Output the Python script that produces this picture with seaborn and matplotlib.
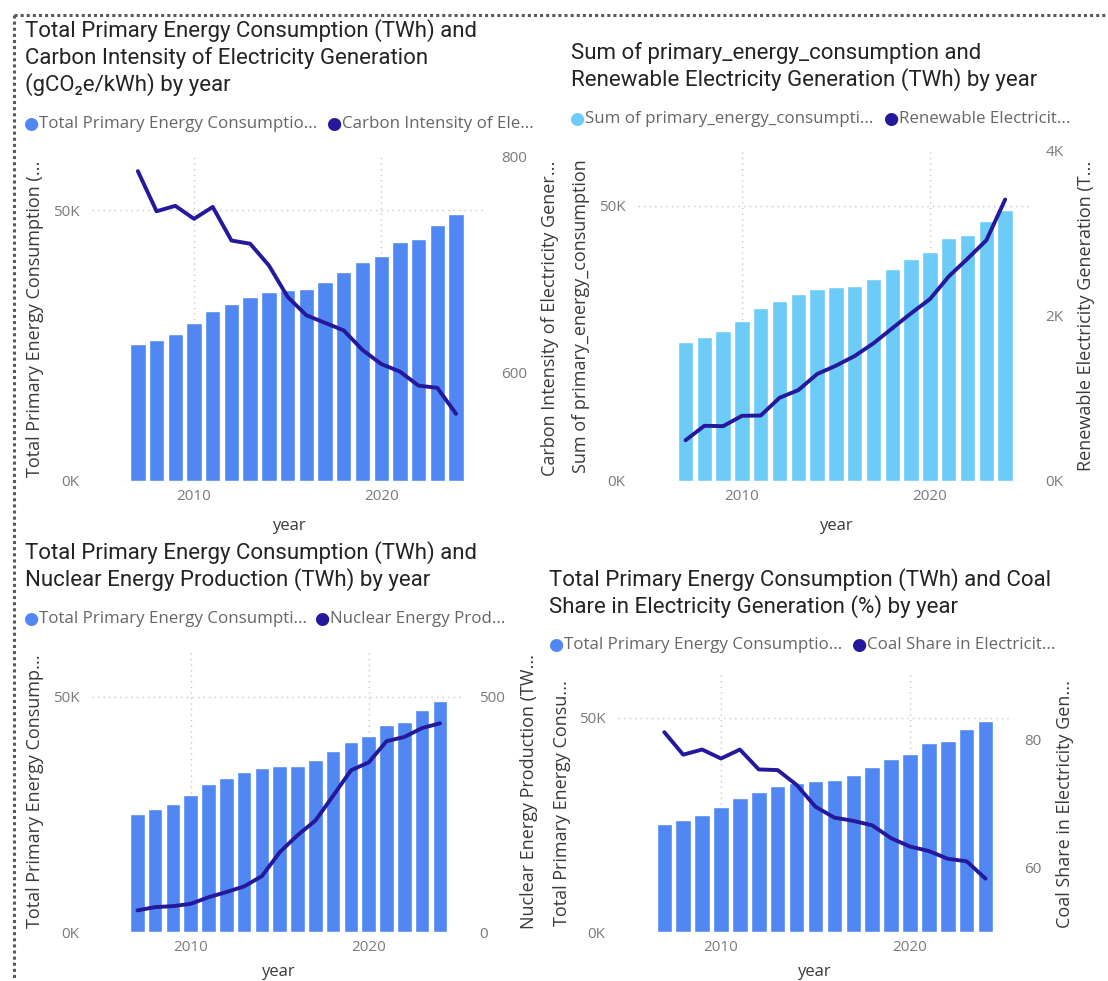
import matplotlib
matplotlib.use("Agg")
import matplotlib.pyplot as plt
from matplotlib.lines import Line2D
from matplotlib.ticker import FixedLocator, FuncFormatter
import seaborn as sns
import pandas as pd

# ---- data -------------------------------------------------------------
years = [2007, 2008, 2009, 2010, 2011, 2012, 2013, 2014, 2015,
         2016, 2017, 2018, 2019, 2020, 2021, 2022, 2023, 2024]
primary_energy = [25200, 26100, 27200, 29100, 31400, 32700, 34000, 34900, 35300,
                  35400, 36700, 38500, 40400, 41600, 44100, 44700, 47300, 49200]
carbon_intensity = [786, 749, 754, 742, 753, 722, 719, 699, 670,
                    653, 646, 639, 621, 608, 601, 588, 586, 562]
renewable_gen = [494, 669, 665, 790, 794, 1009, 1102, 1297, 1398,
                 1516, 1670, 1852, 2034, 2205, 2480, 2695, 2918, 3412]
nuclear_prod = [46, 53, 55, 60, 74, 85, 97, 119, 170,
                206, 237, 290, 344, 361, 406, 415, 434, 444]
coal_share = [81.1, 77.6, 78.4, 77.0, 78.4, 75.3, 75.2, 72.9, 69.5,
              67.8, 67.3, 66.6, 64.6, 63.3, 62.6, 61.4, 61.0, 58.3]

df = pd.DataFrame({
    "year": years,
    "primary": primary_energy,
    "carbon": carbon_intensity,
    "renewable": renewable_gen,
    "nuclear": nuclear_prod,
    "coal": coal_share,
})

# ---- style ------------------------------------------------------------
sns.set_theme(style="white")
plt.rcParams["font.family"] = ["Open Sans", "DejaVu Sans"]

BAR_BLUE = "#5087F2"
BAR_SKY = "#6CCBF7"
LINE_NAVY = "#24189C"
TICK_GREY = "#7A7A7A"
LABEL_DARK = "#3A3A3A"
LEGEND_GREY = "#666666"
TITLE_DARK = "#252423"

W, H = 1108, 981
fig = plt.figure(figsize=(W / 100, H / 100), dpi=100)
fig.patch.set_facecolor("white")


def px_axes(left, top, right, bottom):
    return fig.add_axes([left / W, 1 - bottom / H, (right - left) / W, (bottom - top) / H])


def fx(x):
    return x / W


def fy(y):
    return 1 - y / H


def k_fmt(v, _):
    return f"{v / 1000:.0f}K"


def combo(box, xlim, bar_col, bar_color, line_col, right_lim, right_ticks, right_fmt,
          left_label, right_label, left_label_x, right_label_x, title_lines, title_xy,
          legend_items, legend_y, xlabel_pad=10, right_pad=11):
    ax = px_axes(*box)
    sns.barplot(data=df, x="year", y=bar_col, ax=ax, native_scale=True,
                color=bar_color, saturation=1, width=0.82, errorbar=None, zorder=2)
    ax.set_xlim(*xlim)
    ax.set_ylim(0, 60000)
    ax.yaxis.set_major_locator(FixedLocator([0, 50000]))
    ax.yaxis.set_major_formatter(FuncFormatter(k_fmt))
    ax.xaxis.set_major_locator(FixedLocator([2010, 2020]))
    ax.xaxis.set_major_formatter(FuncFormatter(lambda v, _: f"{v:.0f}"))
    ax.grid(True, color="#C8C8C8", linestyle=(0, (1, 3)), linewidth=1.0, zorder=0)
    for s in ax.spines.values():
        s.set_visible(False)
    ax.tick_params(axis="both", length=0, colors=TICK_GREY, labelsize=11)
    ax.tick_params(axis="y", pad=9)
    ax.tick_params(axis="x", pad=6)
    ax.set_xlabel("year", color=LABEL_DARK, fontsize=12, labelpad=xlabel_pad)
    ax.set_ylabel(left_label, color=LABEL_DARK, fontsize=13)
    l, t, r, b = box
    ax.yaxis.set_label_coords((left_label_x + 9 - l) / (r - l), 0.5)

    ax2 = ax.twinx()
    sns.lineplot(data=df, x="year", y=line_col, ax=ax2, color=LINE_NAVY,
                 linewidth=2.8, zorder=3)
    ax2.set_ylim(*right_lim)
    ax2.set_xlim(*xlim)
    ax2.yaxis.set_major_locator(FixedLocator(right_ticks))
    ax2.yaxis.set_major_formatter(FuncFormatter(right_fmt))
    for s in ax2.spines.values():
        s.set_visible(False)
    ax2.tick_params(axis="both", length=0, colors=TICK_GREY, labelsize=11, pad=right_pad)
    ax2.set_ylabel(right_label, color=LABEL_DARK, fontsize=13)
    ax2.yaxis.set_label_coords((right_label_x - 7 - l) / (r - l), 0.5)
    ax2.grid(False)

    tx, ty = title_xy
    for i, line in enumerate(title_lines):
        fig.text(fx(tx), fy(ty + 27 * i), line, fontsize=16, color=TITLE_DARK,
                 family=["Roboto", "DejaVu Sans"], va="center", ha="left")

    for mx, color, text in legend_items:
        fig.text(fx(mx), fy(legend_y), "●", fontsize=12.5, color=color,
                 family=["DejaVu Sans"], va="center", ha="center")
        fig.text(fx(mx + 8), fy(legend_y), text, fontsize=12.2, color=LEGEND_GREY,
                 va="center", ha="left")


# top-left chart
combo(box=(92, 156, 486, 481), xlim=(2004.55, 2025.6),
      bar_col="primary", bar_color=BAR_BLUE, line_col="carbon",
      right_lim=(500, 800), right_ticks=[600, 800],
      right_fmt=lambda v, _: f"{v:.0f}",
      left_label="Total Primary Energy Consumption (...",
      right_label="Carbon Intensity of Electricity Gener...",
      left_label_x=35, right_label_x=548,
      title_lines=["Total Primary Energy Consumption (TWh) and",
                   "Carbon Intensity of Electricity Generation",
                   "(gCO₂e/kWh) by year"],
      title_xy=(25, 31),
      legend_items=[(31, BAR_BLUE, "Total Primary Energy Consumptio..."),
                    (334, LINE_NAVY, "Carbon Intensity of Ele...")],
      legend_y=124)

# top-right chart
combo(box=(638, 151, 1033, 481), xlim=(2004.47, 2025.48),
      bar_col="primary", bar_color=BAR_SKY, line_col="renewable",
      right_lim=(0, 4000), right_ticks=[0, 2000, 4000],
      right_fmt=k_fmt,
      left_label="Sum of primary_energy_consumption",
      right_label="Renewable Electricity Generation (T...",
      left_label_x=581, right_label_x=1084,
      title_lines=["Sum of primary_energy_consumption and",
                   "Renewable Electricity Generation (TWh) by year"],
      title_xy=(571, 53),
      legend_items=[(577, BAR_SKY, "Sum of primary_energy_consumpti..."),
                    (891, LINE_NAVY, "Renewable Electricit...")],
      legend_y=119, right_pad=9)

# bottom-left chart
combo(box=(92, 650, 464, 932), xlim=(2004.45, 2025.35),
      bar_col="primary", bar_color=BAR_BLUE, line_col="nuclear",
      right_lim=(0, 600), right_ticks=[0, 500],
      right_fmt=lambda v, _: f"{v:.0f}",
      left_label="Total Primary Energy Consump...",
      right_label="Nuclear Energy Production (TW...",
      left_label_x=35, right_label_x=527,
      title_lines=["Total Primary Energy Consumption (TWh) and",
                   "Nuclear Energy Production (TWh) by year"],
      title_xy=(25, 553),
      legend_items=[(31, BAR_BLUE, "Total Primary Energy Consumpti..."),
                    (322, LINE_NAVY, "Nuclear Energy Prod...")],
      legend_y=619, xlabel_pad=6)

# bottom-right chart
combo(box=(618, 675, 1009, 932), xlim=(2004.55, 2025.24),
      bar_col="primary", bar_color=BAR_BLUE, line_col="coal",
      right_lim=(50, 90), right_ticks=[60, 80],
      right_fmt=lambda v, _: f"{v:.0f}",
      left_label="Total Primary Energy Consu...",
      right_label="Coal Share in Electricity Gen...",
      left_label_x=562, right_label_x=1063,
      title_lines=["Total Primary Energy Consumption (TWh) and Coal",
                   "Share in Electricity Generation (%) by year"],
      title_xy=(549, 580),
      legend_items=[(556, BAR_BLUE, "Total Primary Energy Consumptio..."),
                    (859, LINE_NAVY, "Coal Share in Electricit...")],
      legend_y=645, xlabel_pad=6)

# dotted frame along the top and left edge of the group
frame = dict(color="#5A5A5A", linewidth=2.2, linestyle=(0, (1, 1)),
             dash_capstyle="butt", transform=fig.transFigure)
fig.add_artist(Line2D([fx(14), fx(W)], [fy(15), fy(15)], **frame))
fig.add_artist(Line2D([fx(14), fx(14)], [fy(15), fy(H)], **frame))

fig.savefig("out.png", dpi=100, facecolor="white")
